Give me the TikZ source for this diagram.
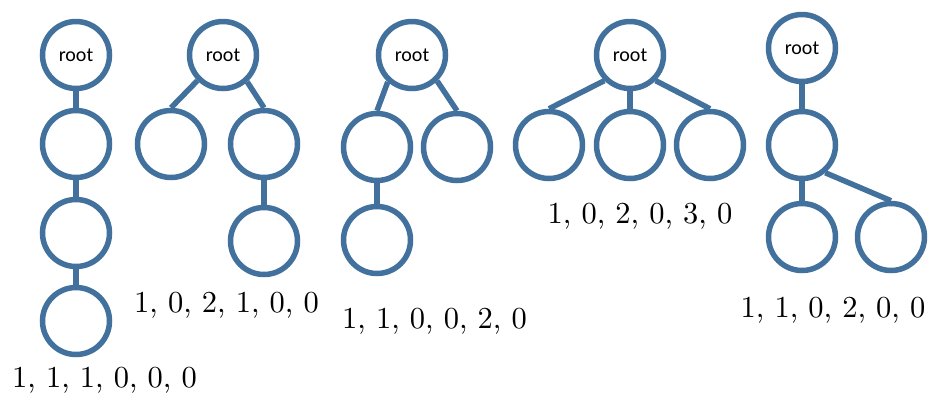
\documentclass[tikz,border=0pt]{standalone}
\usepackage{fontspec}
\newfontfamily\rootfont{Carlito}
\newfontfamily\seqfont{lmroman10-regular.otf}
\definecolor{edgeblue}{RGB}{65,113,156}
\tikzset{
  vtx/.style={circle, draw=edgeblue, line width=5.5pt, minimum size=67pt, inner sep=0pt, fill=white},
  rootvtx/.style={vtx, font=\rootfont\fontsize{20}{24}\selectfont},
  link/.style={draw=edgeblue, line width=5.5pt},
  seq/.style={anchor=base, font=\seqfont\fontsize{30.5}{36}\selectfont, inner sep=0pt}
}
\begin{document}
\begin{tikzpicture}[x=1pt, y=-1pt]
\useasboundingbox (0,0) rectangle (930,392);

% tree 1: a chain of four
\node[rootvtx] (a0) at (76,55) {root};
\node[vtx] (a1) at (76,144) {};
\node[vtx] (a2) at (76,233) {};
\node[vtx] (a3) at (76,321) {};
\draw[link] (a0.south) -- (a1.north);
\draw[link] (a1.south) -- (a2.north);
\draw[link] (a2.south) -- (a3.north);
\node[seq] (la) at (104.5,387) {1, 1, 1, 0, 0, 0};

% tree 2
\node[rootvtx] (b0) at (223,55) {root};
\node[vtx] (b1) at (171,144) {};
\node[vtx] (b2) at (264,144) {};
\node[vtx] (b3) at (264,241) {};
\draw[link] (b0.225) -- (b1.north);
\draw[link] (b0.312) -- (b2.north);
\draw[link] (b2.south) -- (b3.north);
\node[seq] (lb) at (226.5,312) {1, 0, 2, 1, 0, 0};

% tree 3
\node[rootvtx] (c0) at (412,55) {root};
\node[vtx] (c1) at (377,147) {};
\node[vtx] (c2) at (457,147) {};
\node[vtx] (c3) at (377,240) {};
\draw[link] (c0.228) -- (c1.north);
\draw[link] (c0.314) -- (c2.north);
\draw[link] (c1.south) -- (c3.north);
\node[seq] (lc) at (434.5,328) {1, 1, 0, 0, 2, 0};

% tree 4
\node[rootvtx] (d0) at (630,55) {root};
\node[vtx] (d1) at (549,145) {};
\node[vtx] (d2) at (630,145) {};
\node[vtx] (d3) at (710,145) {};
\draw[link] (d0.225) -- (d1.north);
\draw[link] (d0.south) -- (d2.north);
\draw[link] (d0.315) -- (d3.north);
\node[seq] (ld) at (640,223) {1, 0, 2, 0, 3, 0};

% tree 5
\node[rootvtx] (e0) at (802,48) {root};
\node[vtx] (e1) at (802,145) {};
\node[vtx] (e2) at (802,237) {};
\node[vtx] (e3) at (891,237) {};
\draw[link] (e0.south) -- (e1.north);
\draw[link] (e1.south) -- (e2.north);
\draw[link] (e1.310) -- (e3.north);
\node[seq] (le) at (833,317) {1, 1, 0, 2, 0, 0};
\end{tikzpicture}
\end{document}
